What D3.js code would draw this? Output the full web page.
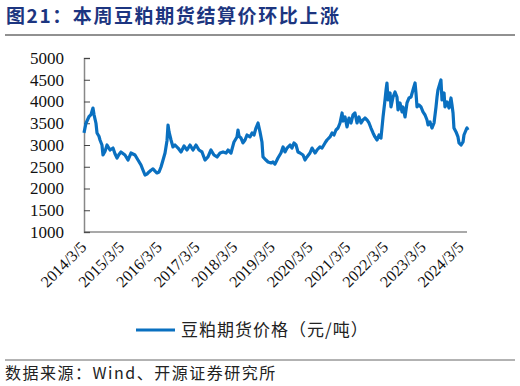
<!DOCTYPE html>
<html>
<head>
<meta charset="utf-8">
<script src="https://cdn.jsdelivr.net/npm/d3@7"></script>
<style>
  body { margin: 0; background: #fff; }
  svg { display: block; }
</style>
</head>
<body>
<div id="chart"></div>
<script>
var W = 520, H = 386;
var margin = { top: 58, right: 52, bottom: 154, left: 84 };

// data
var dates = [
  "2014-03-05","2014-03-24","2014-04-22","2014-05-12","2014-05-31","2014-06-10","2014-06-29","2014-07-09",
  "2014-07-28","2014-08-07","2014-08-26","2014-09-05","2014-09-24","2014-10-14","2014-11-12","2014-12-11",
  "2014-12-30","2015-01-19","2015-02-07","2015-02-26","2015-04-06","2015-05-05","2015-06-03","2015-07-12",
  "2015-08-10","2015-09-08","2015-09-28","2015-10-17","2015-11-05","2015-11-25","2015-12-14","2016-01-02",
  "2016-01-22","2016-02-10","2016-03-01","2016-03-20","2016-04-08","2016-04-28","2016-05-17","2016-05-27",
  "2016-06-06","2016-06-25","2016-07-14","2016-08-03","2016-09-01","2016-09-30","2016-10-29","2016-11-27",
  "2016-12-26","2017-01-24","2017-02-22","2017-03-23","2017-04-21","2017-05-20","2017-06-18","2017-07-17",
  "2017-08-15","2017-09-14","2017-10-13","2017-11-11","2017-12-10","2017-12-29","2018-01-27","2018-02-25",
  "2018-03-26","2018-04-05","2018-04-15","2018-05-04","2018-05-23","2018-06-12","2018-07-01","2018-07-30",
  "2018-08-19","2018-09-07","2018-09-26","2018-10-16","2018-11-04","2018-11-23","2018-12-03","2019-01-01",
  "2019-01-21","2019-02-19","2019-03-10","2019-03-29","2019-04-27","2019-05-26","2019-06-15","2019-07-04",
  "2019-07-24","2019-08-22","2019-09-10","2019-09-29","2019-10-19","2019-11-07","2019-11-27","2019-12-26",
  "2020-01-14","2020-02-02","2020-03-02","2020-03-22","2020-04-20","2020-05-09","2020-06-07","2020-06-27",
  "2020-07-26","2020-08-14","2020-09-12","2020-10-02","2020-10-21","2020-11-09","2020-11-29","2020-12-18",
  "2021-01-07","2021-01-16","2021-02-05","2021-02-24","2021-03-15","2021-04-04","2021-04-23","2021-05-12",
  "2021-06-01","2021-06-20","2021-07-10","2021-07-29","2021-08-17","2021-09-06","2021-09-25","2021-10-14",
  "2021-11-03","2021-11-22","2021-12-12","2021-12-31","2022-01-19","2022-02-08","2022-02-27","2022-03-09",
  "2022-03-18","2022-03-28","2022-04-17","2022-04-26","2022-05-16","2022-06-04","2022-06-23","2022-07-03",
  "2022-07-22","2022-08-11","2022-08-20","2022-09-09","2022-09-28","2022-10-18","2022-11-06","2022-11-25",
  "2022-12-15","2022-12-24","2023-01-03","2023-01-22","2023-02-11","2023-03-02","2023-03-22","2023-04-10",
  "2023-04-20","2023-05-09","2023-05-28","2023-06-17","2023-07-06","2023-07-16","2023-07-25","2023-08-14",
  "2023-08-23","2023-09-02","2023-09-22","2023-10-01","2023-10-21","2023-11-09","2023-11-28","2023-12-08",
  "2023-12-18","2023-12-27","2024-01-16","2024-02-04","2024-02-14","2024-03-04","2024-03-24","2024-04-02",
  "2024-04-22","2024-05-01","2024-05-11"
];
var prices = [
  3280,3500,3650,3700,3850,3700,3500,3277,
  3200,3115,3000,2770,2850,3000,2885,2930,
  2800,2700,2780,2840,2770,2655,2816,2770,
  2655,2540,2420,2310,2330,2380,2420,2450,
  2400,2357,2380,2494,2650,2816,3100,3460,
  3300,3115,2955,3000,2930,2840,2978,2885,
  3000,2885,3000,2885,2840,2655,2725,2885,
  2770,2725,2816,2840,2816,2885,2816,3070,
  3185,3345,3200,3160,3047,3115,3230,3185,
  3277,3230,3390,3506,3300,3070,2725,2655,
  2610,2587,2610,2560,2700,2816,2955,2840,
  2930,3000,2930,3047,3000,2840,2816,2770,
  2655,2725,2816,2930,2816,2885,2955,2930,
  3047,3115,3185,3277,3230,3345,3390,3506,
  3736,3550,3644,3414,3620,3506,3690,3736,
  3506,3644,3506,3575,3620,3575,3506,3390,
  3277,3185,3115,3230,3160,3644,4035,4265,
  4425,4035,4196,3874,4104,4219,4104,3805,
  3966,3760,3874,3644,3966,4081,4104,4265,
  4425,4196,3874,3920,3874,3760,3690,3575,
  3460,3530,3390,3506,3874,4104,4265,4425,
  4495,4035,4196,3874,3990,3850,4081,3920,
  3736,3390,3300,3185,3047,3000,3070,3230,
  3345,3390,3345
];
var yTicks = [1000, 1500, 2000, 2500, 3000, 3500, 4000, 4500, 5000];
var xTickDates = ["2014-03-05","2015-03-05","2016-03-05","2017-03-05","2018-03-05","2019-03-05",
  "2020-03-05","2021-03-05","2022-03-05","2023-03-05","2024-03-05"];

var title = "图21：本周豆粕期货结算价环比上涨";
var legendLabel = "豆粕期货价格（元/吨）";
var sourceText = "数据来源：Wind、开源证券研究所";

var parse = d3.timeParse("%Y-%m-%d");
var fmt = d3.timeFormat("%Y/%-m/%-d");
var series = dates.map(function(d, i) { return { date: parse(d), value: prices[i] }; });

var svg = d3.select("#chart").append("svg")
  .attr("width", W)
  .attr("height", H);

// title
svg.append("text")
  .attr("x", 6)
  .attr("y", 23)
  .attr("fill", "#1c3580")
  .attr("font-family", "'Noto Sans CJK SC', sans-serif")
  .attr("font-weight", "bold")
  .attr("font-size", 19)
  .attr("letter-spacing", 1.6)
  .text(title);
svg.append("line")
  .attr("x1", 5).attr("x2", 515)
  .attr("y1", 35).attr("y2", 35)
  .attr("stroke", "#222").attr("stroke-width", 1);

var xScale = d3.scaleTime()
  .domain([parse(dates[0]), parse(dates[dates.length - 1])])
  .range([margin.left, W - margin.right]);
var yScale = d3.scaleLinear()
  .domain([1000, 5000])
  .range([H - margin.bottom, margin.top]);

// y axis
var yAxis = d3.axisLeft(yScale)
  .tickValues(yTicks)
  .tickFormat(d3.format("d"))
  .tickSize(-6)
  .tickPadding(20);
var gy = svg.append("g")
  .attr("class", "y-axis")
  .attr("transform", "translate(" + margin.left + ",0)")
  .call(yAxis);
gy.select(".domain").attr("stroke", "#888").attr("stroke-width", 1.5);
gy.selectAll(".tick line").attr("stroke", "#444");
gy.selectAll(".tick text")
  .attr("font-family", "'Liberation Serif', 'Times New Roman', serif")
  .attr("font-size", 17)
  .attr("fill", "#111");

// x axis
var xAxis = d3.axisBottom(xScale)
  .tickValues(xTickDates.map(parse))
  .tickFormat(fmt)
  .tickSize(0)
  .tickSizeOuter(0);
var gx = svg.append("g")
  .attr("class", "x-axis")
  .attr("transform", "translate(0," + (H - margin.bottom) + ")")
  .call(xAxis);
gx.select(".domain")
  .attr("d", "M" + margin.left + ",0H" + (W - margin.right - 1))
  .attr("stroke", "#555").attr("stroke-width", 1.2);
gx.selectAll(".tick text")
  .attr("font-family", "'Liberation Serif', 'Times New Roman', serif")
  .attr("font-size", 16)
  .attr("fill", "#111")
  .attr("text-anchor", "end")
  .attr("dy", null)
  .attr("y", 0)
  .attr("transform", "translate(3,16)rotate(-45)");

// line
var line = d3.line()
  .x(function(d) { return xScale(d.date); })
  .y(function(d) { return yScale(d.value); });
svg.append("path")
  .datum(series)
  .attr("d", line)
  .attr("fill", "none")
  .attr("stroke", "#0a70c0")
  .attr("stroke-width", 3.2)
  .attr("stroke-linejoin", "round");

// legend
svg.append("line")
  .attr("x1", 136).attr("x2", 175)
  .attr("y1", 330).attr("y2", 330)
  .attr("stroke", "#0a70c0").attr("stroke-width", 3);
svg.append("text")
  .attr("x", 181)
  .attr("y", 336)
  .attr("font-family", "'Noto Sans CJK SC', sans-serif")
  .attr("font-size", 17)
  .attr("letter-spacing", 1)
  .attr("fill", "#222")
  .text(legendLabel);

// source
svg.append("line")
  .attr("x1", 5).attr("x2", 515)
  .attr("y1", 360).attr("y2", 360)
  .attr("stroke", "#666").attr("stroke-width", 1);
svg.append("text")
  .attr("x", 5)
  .attr("y", 379)
  .attr("font-family", "'Noto Sans CJK SC', sans-serif")
  .attr("font-size", 16)
  .attr("letter-spacing", 1.5)
  .attr("fill", "#222")
  .text(sourceText);
</script>
</body>
</html>
